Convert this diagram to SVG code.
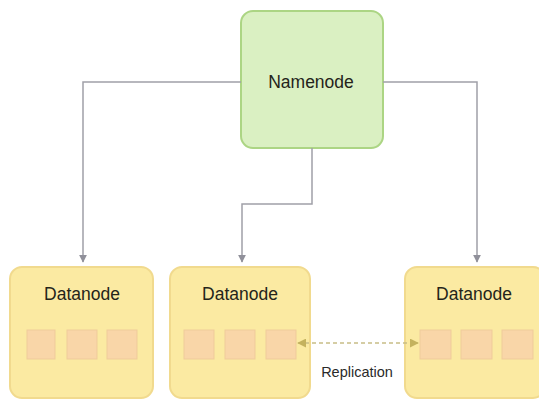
<svg xmlns="http://www.w3.org/2000/svg" width="539" height="401" viewBox="0 0 539 401">
<style>
.lbl{font-family:"Liberation Sans",Arial,sans-serif;font-size:17.5px;fill:#24241a;text-anchor:middle}
.rep{font-family:"Liberation Sans",Arial,sans-serif;font-size:14.5px;fill:#2a2a2a;text-anchor:middle}
.dn{fill:#fbeaa2;stroke:#f1da8e;stroke-width:2}
.blk{fill:#f9d6a8;stroke:#efcb9a;stroke-width:1}
.conn{fill:none;stroke:#a0a0a8;stroke-width:1.5}
.dash{fill:none;stroke:#c8bd86;stroke-width:1.5;stroke-dasharray:4 3}
</style>
<defs>
<marker id="ah" viewBox="0 0 10 10" refX="9" refY="5" markerWidth="8" markerHeight="8" orient="auto" markerUnits="userSpaceOnUse">
<path d="M0,0 L10,5 L0,10 z" fill="#90909a"/>
</marker>
<marker id="ah2" viewBox="0 0 10 10" refX="9" refY="5" markerWidth="9" markerHeight="9" orient="auto-start-reverse" markerUnits="userSpaceOnUse">
<path d="M0,0 L10,5 L0,10 z" fill="#c4b25e"/>
</marker>
</defs>
<rect width="539" height="401" fill="#ffffff"/>
<g id="namenode">
<rect x="241" y="11" width="142" height="137" rx="12" fill="#daf0c2" stroke="#acd584" stroke-width="2"/>
<text class="lbl" x="311" y="88">Namenode</text>
</g>
<g id="datanode1">
<rect class="dn" x="10" y="267" width="143" height="131" rx="12"/>
<text class="lbl" x="82" y="300">Datanode</text>
<rect class="blk" x="27" y="330" width="28" height="29"/>
<rect class="blk" x="67" y="330" width="30" height="29"/>
<rect class="blk" x="107" y="330" width="30" height="29"/>
</g>
<g id="datanode2">
<rect class="dn" x="170" y="267" width="140" height="131" rx="12"/>
<text class="lbl" x="240" y="300">Datanode</text>
<rect class="blk" x="184" y="330" width="30" height="29"/>
<rect class="blk" x="225" y="330" width="30" height="29"/>
<rect class="blk" x="266" y="330" width="30" height="29"/>
</g>
<g id="datanode3">
<rect class="dn" x="405" y="267" width="140" height="131" rx="12"/>
<text class="lbl" x="474" y="300">Datanode</text>
<rect class="blk" x="420" y="330" width="31" height="29"/>
<rect class="blk" x="461" y="330" width="31" height="29"/>
<rect class="blk" x="502" y="330" width="31" height="29"/>
</g>
<g id="replication-label">
<text class="rep" x="357" y="377">Replication</text>
</g>
<g id="connectors">
<path class="conn" d="M241,82 H83 V262" marker-end="url(#ah)"/>
<path class="conn" d="M312,148 V204 H242 V262" marker-end="url(#ah)"/>
<path class="conn" d="M383,82 H477 V262" marker-end="url(#ah)"/>
<path class="dash" d="M298,343 H418" marker-start="url(#ah2)" marker-end="url(#ah2)"/>
</g>
</svg>
